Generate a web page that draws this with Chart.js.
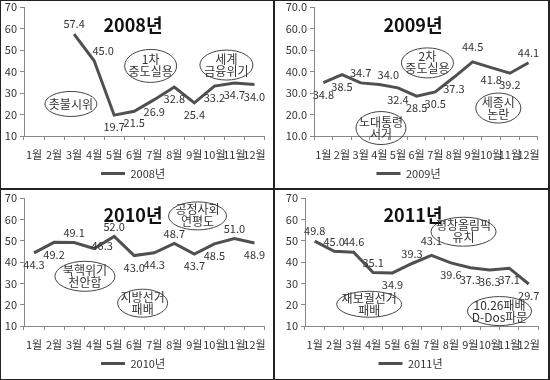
<!DOCTYPE html>
<html>
<head>
<meta charset="utf-8">
<script src="https://cdn.jsdelivr.net/npm/chart.js@4.4.1/dist/chart.umd.min.js"></script>
<style>
  body { margin: 0; background: #fff; }
  #wrap { position: relative; width: 550px; height: 380px; overflow: hidden; }
  #wrap canvas { position: absolute; }
  .ln { position: absolute; background: #222; }
</style>
</head>
<body>
<div id="wrap">
  <canvas id="c2008" width="273" height="188" style="left:1px;top:1px"></canvas>
  <canvas id="c2009" width="272" height="188" style="left:276px;top:1px"></canvas>
  <canvas id="c2010" width="273" height="188" style="left:1px;top:191px"></canvas>
  <canvas id="c2011" width="272" height="188" style="left:276px;top:191px"></canvas>
  <div class="ln" style="left:0;top:0;width:550px;height:1px"></div>
  <div class="ln" style="left:0;top:379px;width:550px;height:1px"></div>
  <div class="ln" style="left:0;top:0;width:1px;height:380px"></div>
  <div class="ln" style="left:548px;top:0;width:2px;height:380px"></div>
  <div class="ln" style="left:273px;top:0;width:2px;height:380px"></div>
  <div class="ln" style="left:0;top:188px;width:550px;height:2px"></div>
</div>
<script>
const FONT = '"Noto Sans CJK KR", "Noto Sans", sans-serif';

// months on the x axis
const months = ['1월', '2월', '3월', '4월', '5월', '6월', '7월', '8월', '9월', '10월', '11월', '12월'];
const yTicks = [10, 20, 30, 40, 50, 60, 70];

// values per year (2008 starts in March)
const v2008 = [null, null, 57.4, 45.0, 19.7, 21.5, 26.9, 32.8, 25.4, 33.2, 34.7, 34.0];
const v2009 = [34.8, 38.5, 34.7, 34.0, 32.4, 28.5, 30.5, 37.3, 44.5, 41.8, 39.2, 44.1];
const v2010 = [44.3, 49.2, 49.1, 46.3, 52.0, 43.0, 44.3, 48.7, 43.7, 48.5, 51.0, 48.9];
const v2011 = [49.8, 45.0, 44.6, 35.1, 34.9, 39.3, 43.1, 39.6, 37.3, 36.3, 37.1, 29.7];

// event notes (text, month index, value)
const notes2008 = [['촛불시위', 1.84, 24.9], ['1차\n중도실용', 5.82, 42.6], ['세계\n금융위기', 9.6, 43.0]];
const notes2009 = [['2차\n중도실용', 5.58, 44.0], ['노대통령\n서거', 3.09, 13.7], ['세종시\n논란', 9.38, 23.0]];
const notes2010 = [['공정사회\n연평도', 8.16, 61.6], ['북핵위기\n천안함', 2.54, 33.3], ['지방선거\n패배', 5.42, 20.7]];
const notes2011 = [['평창올림픽\n유치', 7.65, 54.2], ['재보궐선거\n패배', 2.8, 20.2], ['10.26패배\nD-Dos파문', 9.5, 17.0]];

// where each value label sits: a = above, aa = higher, b = below, r = right, ar = above right
const pos2008 = ['', '', 'a', 'ar', 'b', 'b', 'b', 'b', 'b', 'b', 'b', 'b'];
const pos2009 = ['b', 'b', 'a', 'ar', 'b', 'b', 'b', 'b', 'aa', 'b', 'b', 'a'];
const pos2010 = ['b', 'b', 'a', 'r', 'a', 'b', 'b', 'a', 'b', 'b', 'a', 'b'];
const pos2011 = ['a', 'a', 'a', 'a', 'b', 'a', 'aa', 'b', 'b', 'b', 'b', 'b'];

const offsets = { a: [0, -10], aa: [0, -15], b: [0, 12], r: [8, -3], ar: [9, -10] };

// ellipse sizes for the notes
const noteSize = {
    '촛불시위': [52, 25], '1차\n중도실용': [52, 33], '세계\n금융위기': [53, 30],
    '2차\n중도실용': [52, 30], '노대통령\n서거': [50, 33], '세종시\n논란': [45, 30],
    '공정사회\n연평도': [58, 28], '북핵위기\n천안함': [60, 30], '지방선거\n패배': [50, 28],
    '평창올림픽\n유치': [65, 29], '재보궐선거\n패배': [65, 26], '10.26패배\nD-Dos파문': [64, 29]
};

const extras = {
    id: 'extras',
    afterDatasetsDraw(chart, args, opts) {
        const ctx = chart.ctx;
        const xs = chart.scales.x, ys = chart.scales.y;
        const data = chart.data.datasets[0].data;
        ctx.save();
        ctx.textAlign = 'center';
        ctx.textBaseline = 'middle';

        // value labels
        ctx.font = '11px ' + FONT;
        ctx.fillStyle = '#333';
        chart.getDatasetMeta(0).data.forEach((pt, i) => {
            if (data[i] == null) return;
            const o = offsets[opts.pos[i]];
            ctx.fillText(data[i].toFixed(1), pt.x + o[0], pt.y + o[1]);
        });

        // notes in ellipses
        opts.notes.forEach(n => {
            const cx = xs.getPixelForValue(n[1]);
            const cy = ys.getPixelForValue(n[2]);
            const sz = noteSize[n[0]];
            ctx.beginPath();
            ctx.ellipse(cx, cy, sz[0] / 2, sz[1] / 2, 0, 0, Math.PI * 2);
            ctx.strokeStyle = '#444';
            ctx.lineWidth = 1;
            ctx.stroke();
            const lines = n[0].split('\n');
            ctx.font = '12px ' + FONT;
            ctx.fillStyle = '#333';
            lines.forEach((t, k) => {
                ctx.fillText(t, cx, cy + (k - (lines.length - 1) / 2) * 12);
            });
        });

        // big year title
        ctx.font = 'bold 18px ' + FONT;
        ctx.fillStyle = '#111';
        ctx.fillText(opts.title, opts.titleX, 24);
        ctx.restore();
    }
};

function makeChart(id, year, values, pos, notes, p) {
    return new Chart(document.getElementById(id), {
        type: 'line',
        data: {
            labels: months,
            datasets: [{
                label: year + '년',
                data: values,
                borderColor: '#505050',
                backgroundColor: '#505050',
                borderWidth: 3,
                pointRadius: 0,
                tension: 0
            }]
        },
        options: {
            responsive: false,
            animation: false,
            layout: { padding: { top: p.top, right: p.right, left: 0, bottom: 0 } },
            plugins: {
                legend: {
                    position: 'bottom',
                    labels: {
                        usePointStyle: true,
                        pointStyle: 'line',
                        pointStyleWidth: 24,
                        padding: 6,
                        color: '#333',
                        font: { size: 11, family: FONT }
                    }
                },
                tooltip: { enabled: false },
                extras: { pos: pos, notes: notes, title: year + '년', titleX: p.titleX }
            },
            scales: {
                x: {
                    offset: true,
                    grid: { offset: true, drawOnChartArea: false, tickLength: 4, color: '#888' },
                    border: { color: '#888' },
                    ticks: { color: '#333', font: { size: 11, family: FONT }, padding: 8, maxRotation: 0, autoSkip: false },
                    afterFit(s) { s.height = 26; }
                },
                y: {
                    min: 10,
                    max: 70,
                    afterBuildTicks(s) { s.ticks = yTicks.map(v => ({ value: v })); },
                    grid: { drawOnChartArea: false, tickLength: 4, color: '#888' },
                    border: { color: '#888' },
                    ticks: {
                        color: '#333',
                        font: { size: 11, family: FONT },
                        padding: 3,
                        callback: v => p.dec ? v.toFixed(1) : v
                    },
                    afterFit(s) {
                        s.width = p.axisW;
                        s.paddingTop = 0;
                        s.paddingBottom = 0;
                    }
                }
            }
        },
        plugins: [extras]
    });
}

makeChart('c2008', 2008, v2008, pos2008, notes2008, { top: 6, right: 9, axisW: 23, titleX: 132, dec: false });
makeChart('c2009', 2009, v2009, pos2009, notes2009, { top: 6, right: 7, axisW: 38, titleX: 137, dec: true });
makeChart('c2010', 2010, v2010, pos2010, notes2010, { top: 7, right: 9, axisW: 23, titleX: 132, dec: false });
makeChart('c2011', 2011, v2011, pos2011, notes2011, { top: 7, right: 3, axisW: 29, titleX: 137, dec: false });
</script>
</body>
</html>
